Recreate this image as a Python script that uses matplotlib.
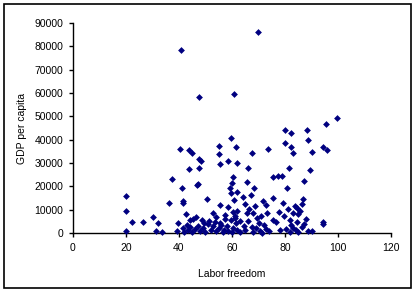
import matplotlib
matplotlib.use("Agg")
import matplotlib.pyplot as plt
from matplotlib.patches import Rectangle

plt.rcParams['font.family'] = ['Liberation Sans', 'DejaVu Sans']

# labor freedom score vs GDP per capita
labor_freedom = [
    40.8, 47.5, 60.8, 69.8, 99.6, 95.5,
    59.6, 55.1, 61.5, 40.2, 43.8, 44.9,
    80.0, 82.3, 88.2, 88.7, 80.0, 82.3, 94.3, 95.8, 73.6, 83.0, 90.2,
    55.1, 67.5, 47.5, 48.3, 58.5, 61.9, 55.5, 47.5, 66.0, 43.8,
    81.5, 89.4, 75.5, 77.5, 79.0,
    37.4, 41.1, 46.8, 60.4, 47.2, 60.0, 65.7, 68.3, 87.2, 80.8,
    59.2, 59.6, 61.9, 20.0, 36.2, 41.5, 41.5, 50.6, 60.8, 55.5, 58.5,
    71.7, 72.8, 75.5, 79.2, 86.8, 86.4, 83.8, 84.5, 77.7, 83.0, 84.9,
    20.0, 42.6, 45.3, 30.2, 22.3, 26.4, 32.0, 39.6, 20.0, 31.3, 33.6, 39.2,
    52.8, 54.0, 57.4, 65.7, 67.9, 73.2,
    75.5, 76.6, 81.9, 84.5, 86.4, 82.3, 83.0, 78.1, 88.7, 90.2, 94.3, 94.5,
    64.0, 65.0, 66.5, 67.0, 68.5, 69.5, 70.0, 63.0, 62.0, 61.0, 64.5, 66.0,
    67.5, 71.0, 72.0, 73.0, 74.0, 58.0, 59.5, 60.5, 57.0, 56.0, 55.0, 54.0,
    53.0, 52.0, 51.0, 50.0, 49.0, 48.0, 47.0, 46.0, 45.0, 44.0, 43.5, 43.0,
    42.0, 41.5, 49.5, 51.5, 57.5, 62.0, 63.0, 65.0, 68.0, 69.0, 70.5, 71.5,
    60.0, 56.5, 58.5, 61.5, 55.5, 53.5, 48.5, 46.5, 44.0,
    80.5, 82.0, 84.0, 85.0, 87.0, 79.5, 81.0, 85.5, 88.0, 60.5, 61.0,
]
gdp_per_capita = [
    78400, 58300, 59600, 86200, 49300, 46700,
    40700, 37300, 36900, 36000, 35600, 34300,
    44200, 42900, 44200, 39900, 38600, 36900, 36900, 35600, 35800, 34300, 34700,
    33900, 34300, 31700, 30900, 30900, 30000, 29600, 27900, 27900, 27400,
    27900, 27000, 24200, 24400, 24400,
    23100, 19300, 20600, 24000, 21000, 21400, 21900, 19300, 22300, 19300,
    19300, 17100, 17600, 15900, 12900, 13700, 12900, 14600, 14100, 12000, 11100,
    13700, 12000, 15000, 12900, 14600, 12400, 11600, 10700, 9000, 8600, 8100,
    9400, 8100, 6000, 6900, 4700, 4700, 4300, 4300, 900, 900, 400, 900,
    8600, 6900, 7700, 8600, 8600, 8600,
    5600, 4700, 5600, 4700, 2600, 3400, 2100, 1300, 900, 900, 4700, 3800,
    15500, 12500, 10200, 16500, 11500, 6300, 4200, 5200, 9500, 6500, 3000, 5200,
    2500, 7500, 3500, 1800, 900, 3200, 5500, 2200, 1200, 3600, 2000, 800,
    2800, 1500, 3700, 600, 2300, 1000, 3100, 1700, 400, 2700, 1200, 3500,
    500, 2000, 4200, 5000, 5800, 1200, 400, 1500, 600, 2000, 1000, 200,
    300, 400, 900, 4200, 4500, 4800, 5500, 7000, 5500,
    1800, 400, 1400, 500, 3800, 7200, 10200, 9500, 6200, 9000, 7500,
]

x_ticks = [0, 20, 40, 60, 80, 100, 120]
y_ticks = [0, 10000, 20000, 30000, 40000, 50000, 60000, 70000, 80000, 90000]

fig = plt.figure(figsize=(4.16, 2.93), dpi=100)
ax = fig.add_axes([73/416, 1 - 233/293, (391 - 73)/416, (233 - 23)/293])

ax.scatter(labor_freedom, gdp_per_capita, marker='D', s=12, color='#000080',
           linewidths=0, clip_on=False, zorder=3)

ax.set_xlim(0, 120)
ax.set_ylim(0, 90000)
ax.set_xticks(x_ticks)
ax.set_yticks(y_ticks)
ax.spines['top'].set_visible(False)
ax.spines['right'].set_visible(False)
for s in ('left', 'bottom'):
    ax.spines[s].set_linewidth(1.0)
    ax.spines[s].set_color('black')
ax.tick_params(direction='out', length=3, width=1, labelsize=7.5,
               colors='black', pad=4)
ax.set_xlabel('Labor freedom', fontsize=7.5, labelpad=12)
ax.set_ylabel('GDP per capita', fontsize=7.5, labelpad=5)

# outer chart border
fig.patches.append(Rectangle((4/416, 1 - 288/293), 407/416, 284/293,
                             transform=fig.transFigure, fill=False,
                             edgecolor='black', linewidth=1.2))

fig.savefig('out.png', dpi=100)
